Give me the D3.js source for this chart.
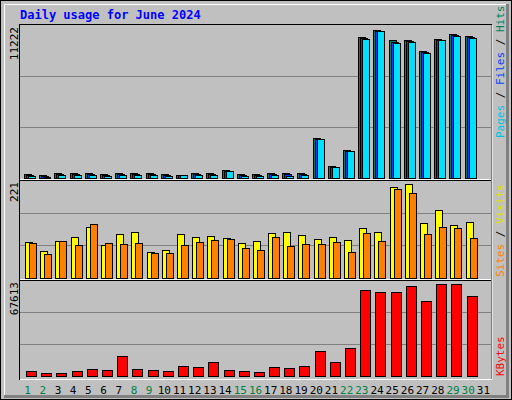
<!DOCTYPE html>
<html>
<head>
<meta charset="utf-8">
<script src="https://cdn.jsdelivr.net/npm/d3@7"></script>
<style>
  body { margin: 0; background: #fff; }
  text { font-family: "DejaVu Sans Mono", monospace; }
</style>
</head>
<body>
<script>
// data
var days = d3.range(1, 32);
var weekend = [1, 2, 8, 9, 15, 16, 22, 23, 29, 30];
var hits  = [270,200,340,340,340,270,340,340,340,270,250,340,340,560,270,270,340,340,340,2910,860,2030,10310,10830,10090,10090,9290,10170,10530,10390,0];
var files = [230,170,300,300,300,230,300,300,300,230,220,300,300,500,230,230,300,300,300,2880,830,2000,10240,10760,10000,10030,9220,10130,10460,10320,0];
var pages = [120,90,220,220,220,150,220,220,240,120,200,220,220,480,150,150,200,150,200,2840,790,1960,10170,10760,9900,9970,9160,10090,10390,10240,0];
var visits = [82,61,84,93,116,75,100,104,59,63,100,93,95,90,79,84,102,104,97,88,93,86,113,104,205,211,125,154,120,127,0];
var sites  = [78,54,84,75,122,79,77,79,56,56,75,81,86,88,68,63,93,72,77,77,81,59,102,84,200,191,100,116,113,90,0];
var kbytes = [3300,2400,2400,3300,4700,4000,13900,5200,4000,3300,6800,6100,9600,4000,3300,2600,6100,5400,6800,17400,9600,19500,60300,58900,58900,63100,52600,64500,64500,56100,0];
var maxHits = 11222, maxVisits = 221, maxKB = 67613;

var W = 512, H = 400;
var svg = d3.select("body").append("svg").attr("width", W).attr("height", H);

// frame
svg.append("rect").attr("x", 0).attr("y", 0).attr("width", W).attr("height", H).attr("fill", "#c0c0c0");
svg.append("rect").attr("x", 0.5).attr("y", 0.5).attr("width", W - 1).attr("height", H - 1)
  .attr("fill", "none").attr("stroke", "#000");
svg.append("path").attr("d", "M4.5,395V4.5H507").attr("fill", "none").attr("stroke", "#fff");
svg.append("path").attr("d", "M4,396.5H507.5V4").attr("fill", "none").attr("stroke", "#808080").attr("stroke-width", 3);

svg.append("text").attr("x", 20).attr("y", 19).attr("fill", "#0000ff")
  .attr("font-weight", "bold").attr("font-size", 12).text("Daily usage for June 2024");

var x = d3.scaleBand().domain(days).range([20, 491]);

var panels = [
  {top: 25, bottom: 178, max: maxHits, label: maxHits},
  {top: 180, bottom: 278, max: maxVisits, label: maxVisits},
  {top: 280, bottom: 376, max: maxKB, label: maxKB}
];

panels.forEach(function (p) {
  p.y = d3.scaleLinear().domain([0, p.max]).range([p.bottom, p.top]);
  // gridlines
  [1, 2].forEach(function (i) {
    var gy = Math.round(p.top + (p.bottom - p.top) * i / 3) + 0.5;
    svg.append("line").attr("x1", 20).attr("x2", 491).attr("y1", gy).attr("y2", gy)
      .attr("stroke", "#808080");
  });
  svg.append("text").attr("transform", "translate(18," + (p.top + 2) + ") rotate(-90)")
    .attr("text-anchor", "end").attr("font-size", 11).attr("fill", "#000").text(p.label);
});

// plot borders
svg.append("rect").attr("x", 19.5).attr("y", 24.5).attr("width", 472).attr("height", 355)
  .attr("fill", "none").attr("stroke", "#000");
svg.append("path").attr("d", "M20,180.5H491M20,280.5H491").attr("fill", "none").attr("stroke", "#000");
svg.append("path").attr("d", "M20,179.5H491M20,279.5H491M20,379.5H492V25").attr("fill", "none").attr("stroke", "#fff");

function bars(data, p, dx, w, color) {
  svg.append("g").selectAll("rect").data(days).join("rect")
    .filter(function (d, i) { return data[i] > 0; })
    .attr("x", function (d) { return Math.round(x(d)) + dx + 0.5; })
    .attr("y", function (d) { return Math.round(p.y(data[d - 1])) + 0.5; })
    .attr("width", w)
    .attr("height", function (d) { return p.bottom - Math.round(p.y(data[d - 1])); })
    .attr("fill", color).attr("stroke", "#000");
}

bars(hits, panels[0], 4, 7, "#00805c");
bars(files, panels[0], 6, 7, "#0040ff");
bars(pages, panels[0], 8, 7, "#00e0ff");
bars(visits, panels[1], 5, 7, "#ffff00");
bars(sites, panels[1], 9, 7, "#ff8000");
bars(kbytes, panels[2], 6, 10, "#ff0000");

// day labels
svg.append("g").selectAll("text").data(days).join("text")
  .attr("x", function (d) { return x(d) + x.bandwidth() / 2; })
  .attr("y", 394).attr("text-anchor", "middle").attr("font-size", 11)
  .attr("fill", function (d) { return weekend.indexOf(d) >= 0 ? "#008040" : "#000"; })
  .text(function (d) { return d; });

// right side legends
function legend(yPos, parts) {
  var t = svg.append("text").attr("transform", "translate(504," + yPos + ") rotate(-90)")
    .attr("font-size", 11);
  parts.forEach(function (pt) { t.append("tspan").attr("fill", pt[1]).text(pt[0]); });
}
legend(138, [["Pages", "#00c0e0"], [" / ", "#000"], ["Files", "#0040ff"], [" / ", "#000"], ["Hits", "#008060"]]);
legend(277, [["Sites", "#ff8000"], [" / ", "#000"], ["Visits", "#e0e000"]]);
legend(376, [["KBytes", "#ff0000"]]);
</script>
</body>
</html>
